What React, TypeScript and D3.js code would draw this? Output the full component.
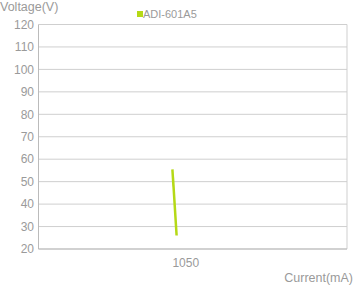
import React from "react";
import * as d3 from "d3";

const seriesName = "ADI-601A5";
const currents = [955, 985];
const voltages = [55.5, 26];
const yTicks = [20, 30, 40, 50, 60, 70, 80, 90, 100, 110, 120];
const xTicks = [1050];

export default function App() {
  const W = 354, H = 292;
  const left = 38.5, right = 347, top = 24.5, bottom = 249;
  const x = d3.scaleLinear().domain([0, 2200]).range([left, right]);
  const y = d3.scaleLinear().domain([20, 120]).range([bottom, top]);
  const pts: [number, number][] = currents.map((c, i) => [c, voltages[i]]);
  const line = d3.line<[number, number]>().x(d => x(d[0])).y(d => y(d[1]));
  const font = "Arial, 'Liberation Sans', sans-serif";
  return (
    <svg width={W} height={H} style={{ position: "absolute", left: 0, top: 0 }} fontFamily={font}>
      <rect x={0} y={0} width={W} height={H} fill="#fff" />
      {yTicks.map(t => (
        <g key={t}>
          <line x1={left} x2={right} y1={y(t)} y2={y(t)} stroke="#cfcfcf" strokeWidth={1} />
          <text x={34} y={y(t)} dy="0.35em" textAnchor="end" fontSize={12} fill="#9a9a9a">{t}</text>
        </g>
      ))}
      <line x1={left} x2={left} y1={top} y2={bottom} stroke="#bbb" strokeWidth={1} />
      <line x1={right} x2={right} y1={top} y2={bottom} stroke="#cfcfcf" strokeWidth={1} />
      <line x1={left} x2={right} y1={bottom} y2={bottom} stroke="#bbb" strokeWidth={1} />
      {xTicks.map(t => (
        <text key={t} x={x(t)} y={267} textAnchor="middle" fontSize={12} fill="#9a9a9a">{t}</text>
      ))}
      <text x={0} y={11} fontSize={12.5} fill="#9a9a9a">Voltage(V)</text>
      <text x={353} y={282} textAnchor="end" fontSize={12.5} fill="#9a9a9a">Current(mA)</text>
      <rect x={137} y={11} width={6} height={6} fill="#b5d916" />
      <text x={143} y={17.5} fontSize={11} fill="#9a9a9a">{seriesName}</text>
      <path d={line(pts) || ""} fill="none" stroke="#b5d916" strokeWidth={2.5} />
    </svg>
  );
}
